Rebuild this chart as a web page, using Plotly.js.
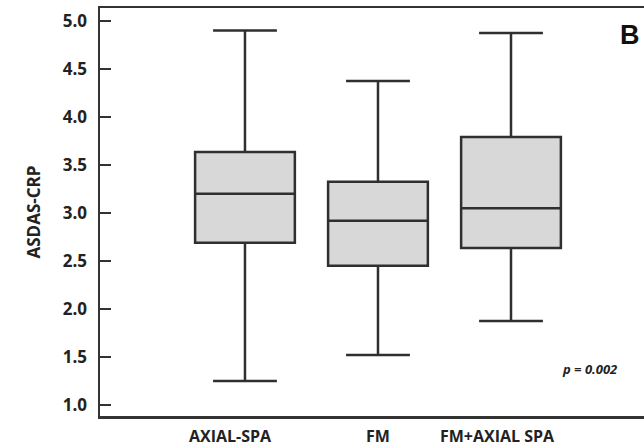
<!DOCTYPE html>
<html>
<head>
<meta charset="utf-8">
<script src="https://cdn.plot.ly/plotly-3.0.1.min.js"></script>
<style>html,body{margin:0;padding:0;overflow:hidden;background:#fff;}</style>
</head>
<body>
<div id="chart" style="width:650px;height:446px;"></div>
<script>
const categories = ["AXIAL-SPA", "FM", "FM+AXIAL SPA"];
const lowerWhisker = [1.25, 1.52, 1.875];
const q1 = [2.69, 2.45, 2.635];
const median = [3.20, 2.92, 3.05];
const q3 = [3.635, 3.325, 3.79];
const upperWhisker = [4.90, 4.375, 4.875];
const yTicks = [1.0, 1.5, 2.0, 2.5, 3.0, 3.5, 4.0, 4.5, 5.0];
const labelShift = [-14, 0, -14];

const trace = {
  type: "box",
  x: [0, 1, 2],
  q1: q1,
  median: median,
  q3: q3,
  lowerfence: lowerWhisker,
  upperfence: upperWhisker,
  width: 0.75,
  whiskerwidth: 0.64,
  fillcolor: "#d8d8d8",
  line: {color: "#2f2f2f", width: 2.5},
  boxpoints: false,
  hoverinfo: "skip",
  showlegend: false
};

const font = "'Open Sans', 'DejaVu Sans', sans-serif";
const annotations = categories.map((c, i) => ({
  x: i, y: 0, xref: "x", yref: "paper", yanchor: "top", yshift: -7,
  xshift: labelShift[i], showarrow: false,
  text: "<b>" + c + "</b>",
  font: {family: font, size: 16, color: "#222"}
}));
annotations.push({
  x: 1, y: 1, xref: "paper", yref: "paper", xanchor: "right", yanchor: "top",
  xshift: -8, yshift: -10, showarrow: false, text: "<b>B</b>",
  font: {family: "'Liberation Sans', Arial, sans-serif", size: 27, color: "#111"}
});
annotations.push({
  x: 2.59, y: 1.37, xref: "x", yref: "y", showarrow: false,
  text: "<b><i>p = 0.002</i></b>",
  font: {family: font, size: 13, color: "#222"}
});

const layout = {
  width: 650, height: 446,
  margin: {l: 100, r: 0, t: 8, b: 30},
  paper_bgcolor: "#fff", plot_bgcolor: "#fff",
  xaxis: {
    range: [-1.09, 3.045], showticklabels: false, ticks: "",
    showgrid: false, zeroline: false,
    showline: true, mirror: true, linecolor: "#333", linewidth: 2.5
  },
  yaxis: {
    range: [0.885, 5.135], tickvals: yTicks,
    ticktext: yTicks.map(v => "<b>" + v.toFixed(1) + "</b>"),
    ticks: "inside", ticklen: 11, tickwidth: 2.5, tickcolor: "#333",
    ticklabelstandoff: 7,
    tickfont: {family: font, size: 17, color: "#222"},
    showgrid: false, zeroline: false,
    showline: true, mirror: true, linecolor: "#333", linewidth: 2.5,
    title: {text: "<b>ASDAS-CRP</b>", font: {family: font, size: 17, color: "#222"}, standoff: 18}
  },
  annotations: annotations
};

Plotly.newPlot("chart", [trace], layout, {displayModeBar: false, staticPlot: true});
</script>
</body>
</html>
